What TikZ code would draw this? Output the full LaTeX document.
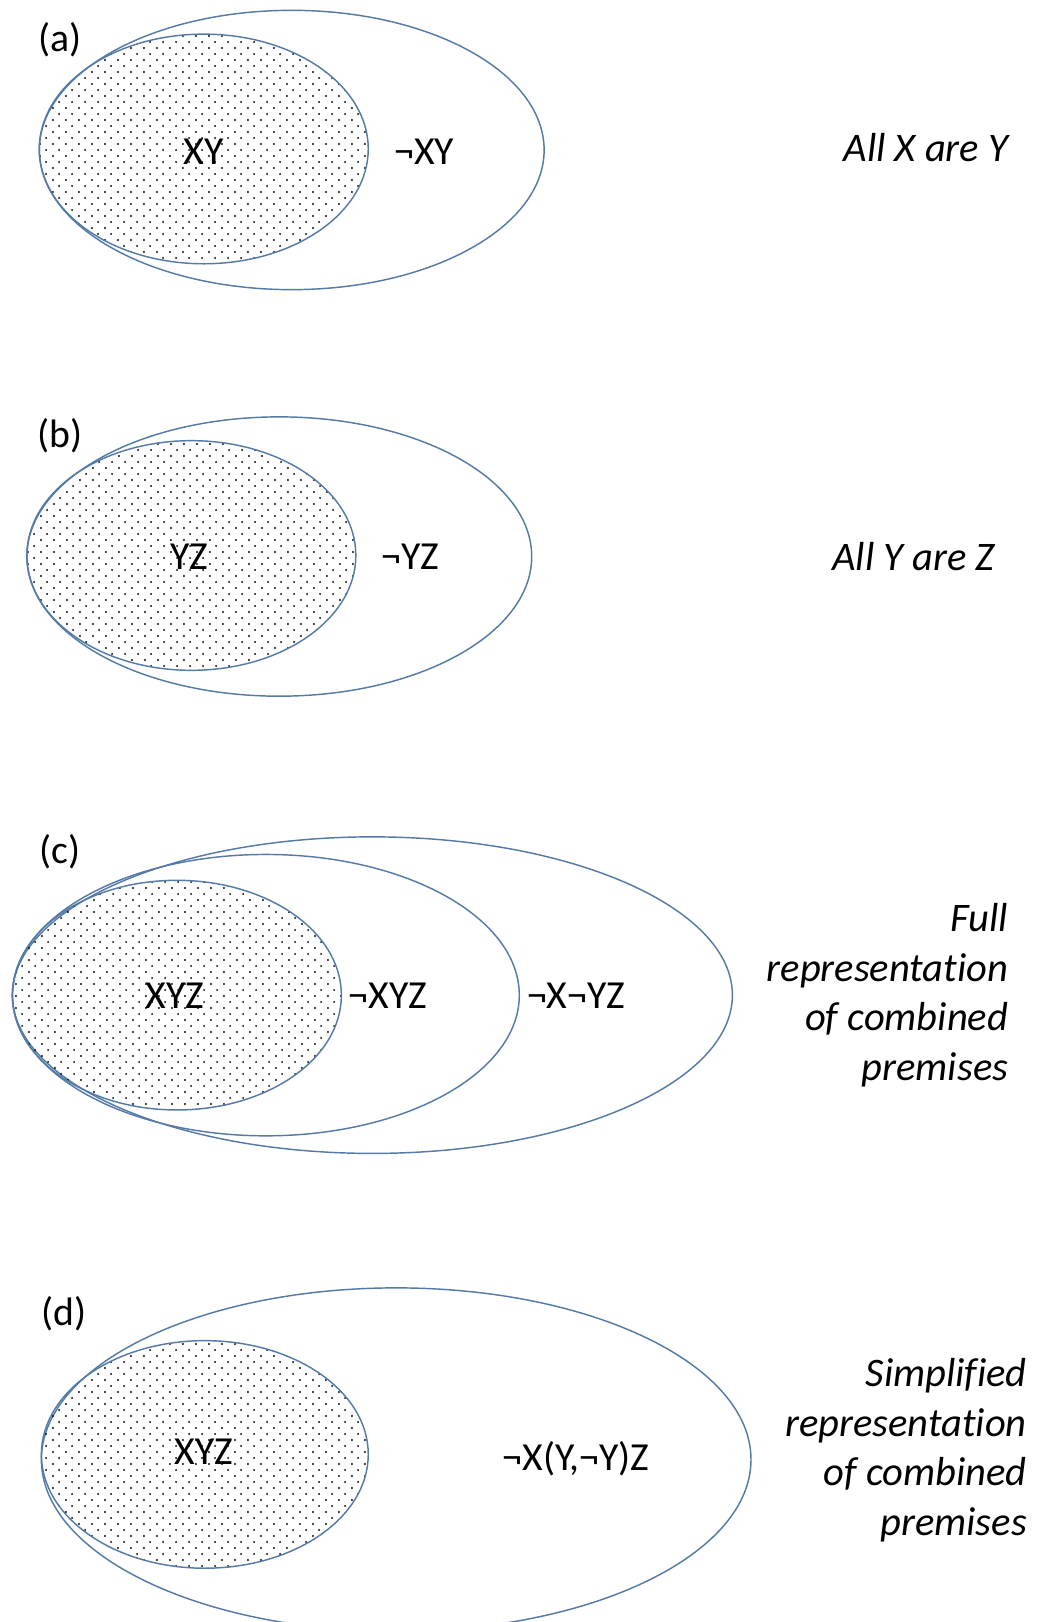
\documentclass[tikz,border=0pt]{standalone}
\usepackage{fontspec}
\setmainfont[RawFeature={-liga;-clig;-dlig;-calt;-hlig}]{Carlito}
\usetikzlibrary{patterns.meta}
\definecolor{edgeblue}{RGB}{84,122,168}
\tikzdeclarepattern{
  name=dotfill,
  type=uncolored,
  bounding box={(0pt,0pt) and (6.05pt,5.8pt)},
  tile size={(6.05pt,5.8pt)},
  code={
    \fill (1.5pt,1.45pt) circle (0.5pt);
    \fill (4.525pt,4.35pt) circle (0.5pt);
  }
}
\tikzset{
  ring/.style={draw=edgeblue, line width=0.7pt},
  dotset/.style={ring, pattern={dotfill}, pattern color=black},
  lbl/.style={inner sep=0pt, anchor=center},
  note/.style={inner sep=0pt, anchor=east, align=right, font=\fontsize{19.6}{24}\selectfont\itshape}
}
\begin{document}
\begin{tikzpicture}[x=0.5pt, y=-0.5pt, font=\fontsize{19.2}{24}\selectfont]
\useasboundingbox (0,0) rectangle (1002,1568);
% (a)
\draw[ring] (282,145) ellipse [x radius=244, y radius=135];
\draw[dotset] (197,144) ellipse [x radius=159, y radius=111];
\node[lbl] (la) at (58,38) {(a)};
\node[lbl] (xy) at (197,147) {XY};
\node[lbl] (nxy) at (410,147) {¬XY};
\node[note] (ta) at (975,143) {All X are Y};
% (b)
\draw[ring] (270,538) ellipse [x radius=244, y radius=135];
\draw[dotset] (185,537) ellipse [x radius=159, y radius=111];
\node[lbl] (lb) at (58,421) {(b)};
\node[lbl] (yz) at (183,538) {YZ};
\node[lbl] (nyz) at (397,538) {¬YZ};
\node[note] (tb) at (962,538) {All Y are Z};
% (c)
\draw[ring] (360,962) ellipse [x radius=348, y radius=153];
\draw[ring] (257,962) ellipse [x radius=245, y radius=136];
\draw[dotset] (171,962) ellipse [x radius=159, y radius=111];
\node[lbl] (lc) at (58,823) {(c)};
\node[lbl] (xyz) at (169,963) {XYZ};
\node[lbl] (nxyz) at (375,963) {¬XYZ};
\node[lbl] (nxnyz) at (557,963) {¬X¬YZ};
\node[note] (tc) at (975,962) {Full\\representat\kern0pt ion\\of combined\\premises};
% (d)
\draw[ring] (383,1411) ellipse [x radius=343, y radius=166];
\draw[dotset] (198,1406) ellipse [x radius=158, y radius=110];
\node[lbl] (ld) at (62,1270) {(d)};
\node[lbl] (xyzd) at (197,1403) {XYZ};
\node[lbl] (nxyyz) at (557,1410) {¬X(Y,¬Y)Z};
\node[note] (td) at (993,1402) {Simplified\\representat\kern0pt ion\\of combined\\premises};
\end{tikzpicture}
\end{document}
